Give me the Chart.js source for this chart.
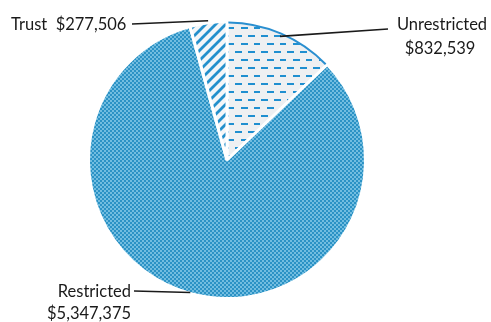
<!DOCTYPE html>
<html lang="en">
<head>
  <meta charset="UTF-8">
  <title>Funds</title>
  <script src="https://cdn.jsdelivr.net/npm/chart.js"></script>
  <style>
    html, body { margin: 0; padding: 0; background: #fff; }
    #wrap { width: 491px; height: 322px; }
  </style>
</head>
<body>
  <div id="wrap"><canvas id="fundsChart" width="491" height="322"></canvas></div>

  <script>
    const categories = ['Unrestricted', 'Restricted', 'Trust'];
    const amounts = [832539, 5347375, 277506];
    const amountLabels = ['$832,539', '$5,347,375', '$277,506'];

    function makeTile(w, h, paint) {
      const c = document.createElement('canvas');
      c.width = w;
      c.height = h;
      paint(c.getContext('2d'));
      return c;
    }

    const ctx = document.getElementById('fundsChart').getContext('2d');

    // fine blue checker for the big slice
    const dotTile = makeTile(4, 4, (g) => {
      g.fillStyle = '#72bde0';
      g.fillRect(0, 0, 4, 4);
      g.fillStyle = '#2b92c5';
      g.fillRect(0, 0, 2, 2);
      g.fillRect(2, 2, 2, 2);
    });

    // offset horizontal dashes
    const dashTile = makeTile(26, 16, (g) => {
      g.fillStyle = '#eef0f2';
      g.fillRect(0, 0, 26, 16);
      g.fillStyle = '#1f8fd0';
      g.fillRect(1, 3, 7, 2);
      g.fillRect(14, 3, 7, 2);
      g.fillRect(7, 11, 7, 2);
      g.fillRect(20, 11, 7, 2);
    });

    // diagonal stripes
    const stripeTile = makeTile(10, 10, (g) => {
      g.fillStyle = '#f4f6f8';
      g.fillRect(0, 0, 10, 10);
      g.strokeStyle = '#2490cc';
      g.lineWidth = 2.8;
      g.beginPath();
      for (let k = -10; k <= 20; k += 10) {
        g.moveTo(k - 2, 12);
        g.lineTo(k + 12, -2);
      }
      g.stroke();
    });

    const fills = [
      ctx.createPattern(dashTile, 'repeat'),
      ctx.createPattern(dotTile, 'repeat'),
      ctx.createPattern(stripeTile, 'repeat')
    ];

    // callout text and leader lines
    const callouts = {
      id: 'callouts',
      afterDatasetsDraw(chart) {
        const c = chart.ctx;
        const arcs = chart.getDatasetMeta(0).data;
        const pt = (arc, frac, r) => {
          const a = arc.startAngle + (arc.endAngle - arc.startAngle) * frac;
          return { x: arc.x + Math.cos(a) * r, y: arc.y + Math.sin(a) * r };
        };

        // blue rim on the unrestricted slice
        const u = arcs[0];
        c.save();
        c.strokeStyle = '#2a8fd0';
        c.lineWidth = 2;
        c.beginPath();
        c.arc(u.x, u.y, u.outerRadius - 1, u.startAngle + 0.01, u.endAngle - 0.01);
        c.stroke();

        c.font = '16.5px Lato, "Liberation Sans", sans-serif';
        c.fillStyle = '#1a1a1a';
        c.strokeStyle = '#1a1a1a';
        c.lineWidth = 1.6;
        c.textBaseline = 'alphabetic';

        // Unrestricted
        let p = pt(arcs[0], 0.5, arcs[0].outerRadius - 4);
        c.beginPath();
        c.moveTo(p.x, p.y);
        c.lineTo(388, 29);
        c.stroke();
        c.textAlign = 'center';
        c.fillText(categories[0], 442, 30);
        c.fillText(amountLabels[0], 440, 54);

        // Trust
        p = pt(arcs[2], 0.5, arcs[2].outerRadius + 2);
        c.beginPath();
        c.moveTo(132, 24);
        c.lineTo(p.x, p.y);
        c.stroke();
        c.textAlign = 'left';
        c.fillText(categories[2] + '  ' + amountLabels[2], 11, 30);

        // Restricted
        p = pt(arcs[1], 0.5, arcs[1].outerRadius - 1);
        c.beginPath();
        c.moveTo(134, 291);
        c.lineTo(p.x, p.y);
        c.stroke();
        c.textAlign = 'right';
        c.fillText(categories[1], 131, 297);
        c.textAlign = 'left';
        c.fillText(amountLabels[1], 47, 319);
        c.restore();
      }
    };

    new Chart(ctx, {
      type: 'pie',
      data: {
        labels: categories,
        datasets: [{
          data: amounts,
          backgroundColor: fills,
          borderColor: '#ffffff',
          borderWidth: 3,
          hoverOffset: 0
        }]
      },
      options: {
        responsive: false,
        animation: false,
        events: [],
        layout: { padding: { left: 87, right: 124, top: 19, bottom: 21 } },
        plugins: {
          legend: { display: false },
          tooltip: { enabled: false }
        }
      },
      plugins: [callouts]
    });
  </script>
</body>
</html>
